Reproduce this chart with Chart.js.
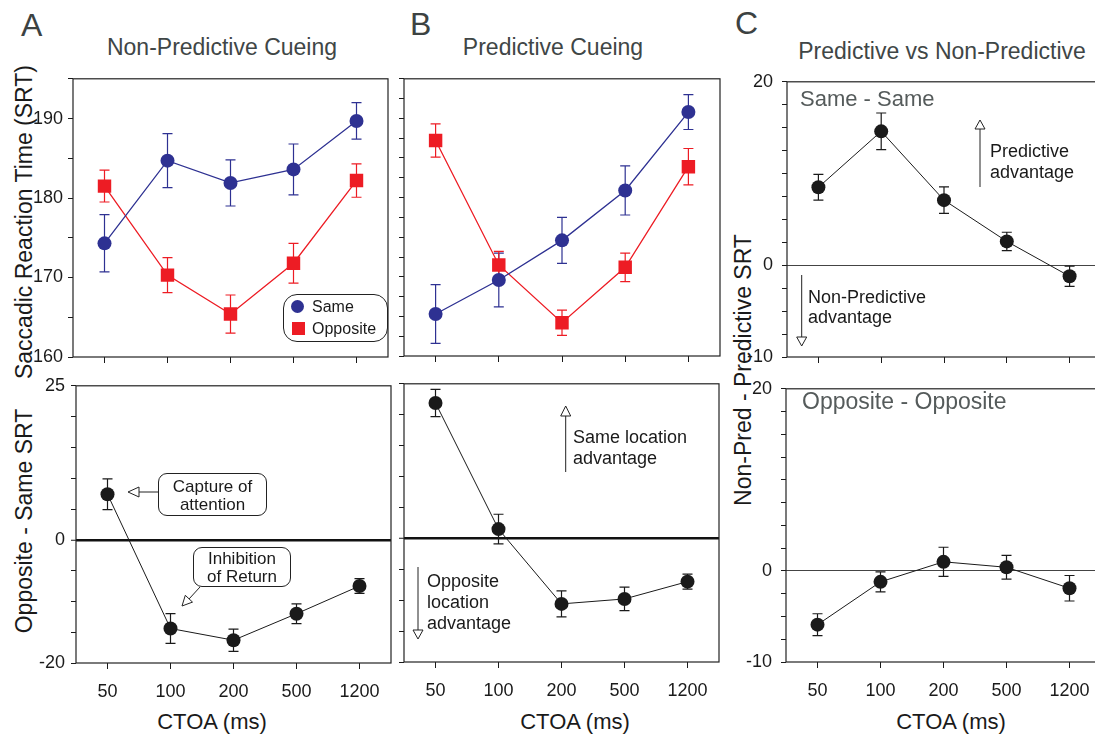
<!DOCTYPE html>
<html>
<head>
<meta charset="utf-8">
<script src="https://cdn.jsdelivr.net/npm/chart.js@4.4.1/dist/chart.umd.min.js"></script>
<style>
  html, body { margin: 0; padding: 0; background: #fff; }
  body { width: 1095px; height: 735px; overflow: hidden; position: relative;
         font-family: 'Liberation Sans', Arial, Helvetica, sans-serif; color: #1a1a1a; }
  canvas { position: absolute; }
  svg { position: absolute; left: 0; top: 0; }
  .t { position: absolute; line-height: 1; white-space: nowrap; }
  .c { transform: translateX(-50%); }
  .rot { transform: translate(-50%, -50%) rotate(-90deg); font-size: 23px; }
  .letter { font-size: 32px; color: #3c4242; }
  .title { font-size: 23px; color: #404646; }
  .xt { font-size: 22px; top: 711px; }
  .note { font-size: 18px; line-height: 21px; }
  .sub { color: #555b5b; }
  .box { position: absolute; border: 1px solid #222; border-radius: 9px; background: #fff;
         text-align: center; font-size: 17px; line-height: 18px; box-sizing: border-box; }
  .legend { position: absolute; left: 283px; top: 294px; width: 105px; height: 48px;
            border: 1.2px solid #222; border-radius: 14px; box-sizing: border-box; }
  .sym { position: absolute; width: 13px; height: 13px; }
</style>
</head>
<body>

<!-- panel letters and titles -->
<div class="t letter" style="left:21px;top:9px">A</div>
<div class="t letter" style="left:410px;top:8px">B</div>
<div class="t letter" style="left:735px;top:7px">C</div>
<div class="t title c" style="left:222px;top:36px">Non-Predictive Cueing</div>
<div class="t title c" style="left:553px;top:36px">Predictive Cueing</div>
<div class="t title c" style="left:942px;top:40px">Predictive vs Non-Predictive</div>

<!-- axis titles -->
<div class="t rot" style="left:24px;top:222px">Saccadic Reaction Time (SRT)</div>
<div class="t rot" style="left:24px;top:521px">Opposite - Same SRT</div>
<div class="t rot" style="left:743px;top:370px">Non-Pred - Predictive SRT</div>
<div class="t xt c" style="left:212px">CTOA (ms)</div>
<div class="t xt c" style="left:575px">CTOA (ms)</div>
<div class="t xt c" style="left:951px">CTOA (ms)</div>

<canvas id="aTop"></canvas>
<canvas id="bTop"></canvas>
<canvas id="cTop"></canvas>
<canvas id="aBot"></canvas>
<canvas id="bBot"></canvas>
<canvas id="cBot"></canvas>

<!-- legend of panel A -->
<div class="legend"></div>
<div class="sym" style="left:291px;top:300px;border-radius:50%;background:#2e3192"></div>
<div class="sym" style="left:292px;top:322px;background:#ed1c24"></div>
<div class="t" style="left:312px;top:299px;font-size:16px">Same</div>
<div class="t" style="left:312px;top:321px;font-size:16px">Opposite</div>

<!-- arrows -->
<svg width="1095" height="735">
  <g stroke="#222" stroke-width="1" fill="#fff">
    <line x1="158" y1="492" x2="139" y2="492"/>
    <polygon points="128,492 139,487 139,497"/>
    <line x1="200" y1="587" x2="189" y2="599"/>
    <polygon points="182,606 192.5,602.1 185.3,595.3"/>
    <line x1="565.7" y1="472" x2="565.7" y2="416"/>
    <polygon points="565.7,406 560.7,416 570.7,416"/>
    <line x1="418" y1="567" x2="418" y2="630"/>
    <polygon points="418,639 413,630 423,630"/>
    <line x1="980" y1="187" x2="980" y2="129"/>
    <polygon points="980,120 975,129 985,129"/>
    <line x1="801.7" y1="275" x2="801.7" y2="337"/>
    <polygon points="801.7,346 796.7,337 806.7,337"/>
  </g>
</svg>

<!-- annotations -->
<div class="box" style="left:158px;top:473px;width:109px;height:43px;padding-top:4px">Capture of<br>attention</div>
<div class="box" style="left:193px;top:547px;width:98px;height:40px;padding-top:2px">Inhibition<br>of Return</div>
<div class="t note" style="left:573px;top:427px">Same location<br>advantage</div>
<div class="t note" style="left:427px;top:571px">Opposite<br>location<br>advantage</div>
<div class="t note" style="left:990px;top:141px">Predictive<br>advantage</div>
<div class="t note" style="left:808px;top:287px;line-height:20px">Non-Predictive<br>advantage</div>
<div class="t sub" style="left:800px;top:88px;font-size:22px">Same - Same</div>
<div class="t sub" style="left:802px;top:390px;font-size:23px">Opposite - Opposite</div>

<script>
// CTOA, ms
const ctoa = ['50', '100', '200', '500', '1200'];

// A: non-predictive cueing, SRT (ms) +- error
const npSame    = [174.3, 184.7, 181.9, 183.6, 189.7];
const npSameErr = [3.6, 3.4, 2.9, 3.2, 2.3];
const npOpp     = [181.5, 170.3, 165.4, 171.8, 182.2];
const npOppErr  = [2.0, 2.2, 2.4, 2.5, 2.1];
const npDiff    = [7.4, -14.4, -16.3, -12.0, -7.5];   // opposite - same
const npDiffErr = [2.5, 2.4, 1.8, 1.6, 1.2];

// B: predictive cueing
const pSame    = [165.3, 169.6, 174.6, 180.9, 190.8];
const pSameErr = [3.7, 3.4, 2.9, 3.1, 2.2];
const pOpp     = [187.2, 171.5, 164.2, 171.2, 183.9];
const pOppErr  = [2.1, 1.7, 1.6, 1.8, 2.3];
const pDiff    = [21.9, 1.5, -10.6, -9.8, -7.0];
const pDiffErr = [2.2, 2.4, 2.1, 1.9, 1.2];

// C: non-pred - predictive
const sameDiff    = [8.5, 14.6, 7.1, 2.6, -1.2];
const sameDiffErr = [1.4, 2.0, 1.45, 1.0, 1.1];
const oppDiff     = [-5.9, -1.2, 1.0, 0.4, -1.9];
const oppDiffErr  = [1.2, 1.1, 1.6, 1.3, 1.4];

const BLUE = '#2e3192', RED = '#ed1c24', INK = '#1a1a1a';
Chart.defaults.font.family = "'Liberation Sans', Arial, Helvetica, sans-serif";

// vertical error bars with caps, under the markers
const errorBars = {
  id: 'errorBars',
  beforeDatasetsDraw(chart) {
    const { ctx, scales: { x, y } } = chart;
    chart.data.datasets.forEach(ds => {
      if (!ds.err) return;
      ctx.save();
      ctx.strokeStyle = ds.borderColor; ctx.lineWidth = 1.2;
      ds.data.forEach((v, i) => {
        const px = x.getPixelForValue(i);
        const hi = y.getPixelForValue(v + ds.err[i]), lo = y.getPixelForValue(v - ds.err[i]);
        ctx.beginPath();
        ctx.moveTo(px, hi); ctx.lineTo(px, lo);
        ctx.moveTo(px - 5, hi); ctx.lineTo(px + 5, hi);
        ctx.moveTo(px - 5, lo); ctx.lineTo(px + 5, lo);
        ctx.stroke();
      });
      ctx.restore();
    });
  }
};

// box round the plot area
const frame = {
  id: 'frame',
  afterDraw(chart) {
    const { ctx, chartArea: a } = chart;
    ctx.save();
    ctx.strokeStyle = '#222'; ctx.lineWidth = 1.2;
    ctx.strokeRect(a.left, a.top, a.right - a.left, a.bottom - a.top);
    ctx.restore();
  }
};

function series(data, err, color, style) {
  return {
    data, err, borderColor: color, backgroundColor: color,
    borderWidth: color === INK ? 1 : 1.3, tension: 0,
    pointStyle: style, pointRadius: style === 'rect' ? 9.5 : 7, pointBorderWidth: 0,
  };
}

// box = plot frame in page px
function panel(id, box, o) {
  const yW = Math.min(box.l, 70), padT = 14, padR = 14, xH = o.xLabels ? 70 : 22;
  const cvs = document.getElementById(id);
  cvs.width = yW + (box.r - box.l) + padR;
  cvs.height = padT + (box.b - box.t) + xH;
  cvs.style.left = (box.l - yW) + 'px';
  cvs.style.top = (box.t - padT) + 'px';
  const isZero = c => o.zero && c.tick && c.tick.value === 0;
  return new Chart(cvs, {
    type: 'line',
    data: { labels: ctoa, datasets: o.datasets },
    plugins: [errorBars, frame],
    options: {
      responsive: false, animation: false, devicePixelRatio: 1,
      layout: { padding: { top: padT, right: padR, left: 0, bottom: 0 } },
      plugins: { legend: { display: false }, tooltip: { enabled: false } },
      scales: {
        x: {
          offset: true, border: { display: false },
          grid: { offset: false, drawOnChartArea: false, tickLength: 6, tickColor: INK, tickWidth: 1 },
          ticks: { autoSkip: false, maxRotation: 0, padding: 12, color: INK, font: { size: 18 },
                   callback: (v, i) => o.xLabels ? ctoa[i] : '' },
          afterFit: s => { s.height = xH; },
        },
        y: {
          min: o.min, max: o.max, border: { display: false },
          grid: {
            color: c => isZero(c) ? o.zero.color : 'rgba(0,0,0,0)',
            lineWidth: c => isZero(c) ? o.zero.width : 1,
            tickLength: 5, tickColor: INK, tickWidth: 1,
          },
          ticks: { stepSize: o.step, autoSkip: false, padding: o.pad || 5, color: INK, font: { size: 18 },
                   callback: v => o.yLabels.includes(v) ? String(v) : '' },
          afterFit: s => { s.width = yW; },
        },
      },
    },
  });
}

panel('aTop', { l: 73, r: 388, t: 77, b: 357 }, {
  min: 160, max: 195, step: 5, yLabels: [160, 170, 180, 190],
  datasets: [series(npSame, npSameErr, BLUE, 'circle'), series(npOpp, npOppErr, RED, 'rect')],
});
panel('bTop', { l: 404, r: 720, t: 77, b: 356 }, {
  min: 160, max: 195, step: 2.5, yLabels: [],
  datasets: [series(pSame, pSameErr, BLUE, 'circle'), series(pOpp, pOppErr, RED, 'rect')],
});
panel('cTop', { l: 787, r: 1101, t: 76, b: 357 }, {
  min: -10, max: 20, step: 2.5, yLabels: [-10, 0, 20], pad: 9,
  zero: { color: '#444', width: 1 },
  datasets: [series(sameDiff, sameDiffErr, INK, 'circle')],
});
panel('aBot', { l: 76, r: 391, t: 383, b: 663 }, {
  min: -20, max: 25, step: 5, yLabels: [-20, 0, 25], pad: 6, xLabels: true,
  zero: { color: '#111', width: 2.5 },
  datasets: [series(npDiff, npDiffErr, INK, 'circle')],
});
panel('bBot', { l: 404, r: 719, t: 382, b: 662 }, {
  min: -20, max: 25, step: 5, yLabels: [], xLabels: true,
  zero: { color: '#111', width: 2.5 },
  datasets: [series(pDiff, pDiffErr, INK, 'circle')],
});
panel('cBot', { l: 786, r: 1101, t: 383, b: 662 }, {
  min: -10, max: 20, step: 2.5, yLabels: [-10, 0, 20], pad: 9, xLabels: true,
  zero: { color: '#444', width: 1 },
  datasets: [series(oppDiff, oppDiffErr, INK, 'circle')],
});
</script>
</body>
</html>
